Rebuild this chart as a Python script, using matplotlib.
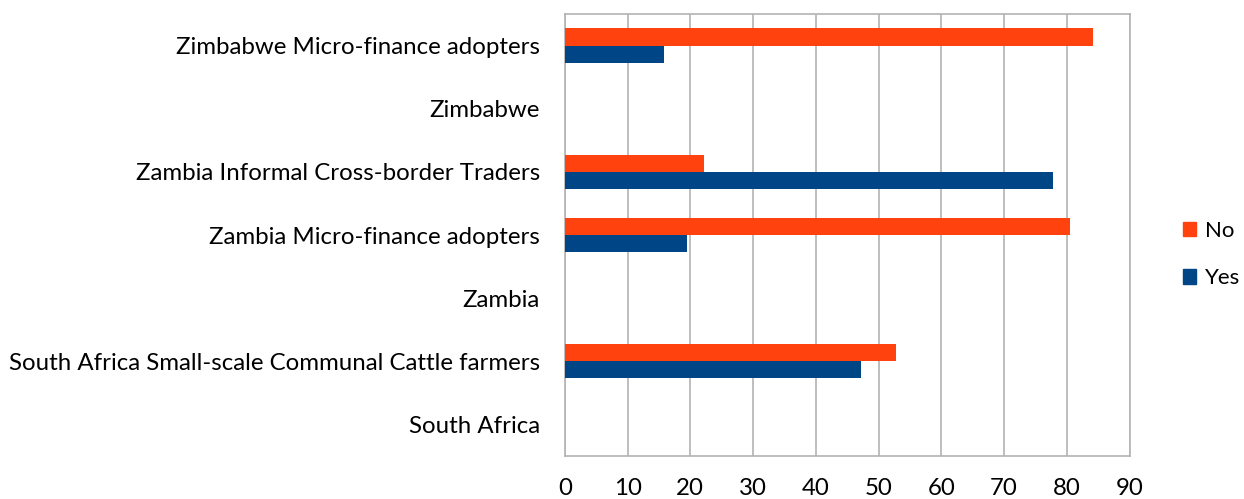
import numpy as np
import matplotlib.pyplot as plt
from matplotlib.patches import Patch

# survey answers (%), categories listed bottom to top
categories = ["South Africa",
              "South Africa Small-scale Communal Cattle farmers",
              "Zambia",
              "Zambia Micro-finance adopters",
              "Zambia Informal Cross-border Traders",
              "Zimbabwe",
              "Zimbabwe Micro-finance adopters"]
no_vals = [np.nan, 52.8, np.nan, 80.5, 22.2, np.nan, 84.2]
yes_vals = [np.nan, 47.2, np.nan, 19.5, 77.8, np.nan, 15.8]

plt.rcParams['font.family'] = ['Lato', 'DejaVu Sans']

fig = plt.figure(figsize=(12.44, 4.99), dpi=100)
ax = fig.add_axes([0.454, 0.086, 0.454, 0.886])

y = np.arange(len(categories))
h = 0.27
ax.barh(y + h/2, no_vals, height=h, color='#ff420e', label='No', zorder=3)
ax.barh(y - h/2, yes_vals, height=h, color='#004586', label='Yes', zorder=3)

ax.set_xlim(0, 90)
ax.set_ylim(-0.5, len(categories) - 0.5)
ax.set_xticks(range(0, 91, 10))
ax.set_yticks(y)
ax.set_yticklabels(categories)
ax.tick_params(axis='both', length=0, labelsize=17.3, colors='black')
ax.tick_params(axis='y', pad=18)
ax.tick_params(axis='x', pad=16)
ax.grid(axis='x', color='#b3b3b3', linewidth=1.2, zorder=0)
for s in ax.spines.values():
    s.set_color('#b3b3b3')
    s.set_linewidth(1.2)

handles = [Patch(color='#ff420e', label='No'), Patch(color='#004586', label='Yes')]
fig.legend(handles=handles, loc='center left', bbox_to_anchor=(0.951, 0.49),
           frameon=False, fontsize=16, handlelength=0.6, handleheight=0.6,
           handletextpad=0.4, labelspacing=1.25, borderpad=0, borderaxespad=0)

plt.savefig("out.png")
